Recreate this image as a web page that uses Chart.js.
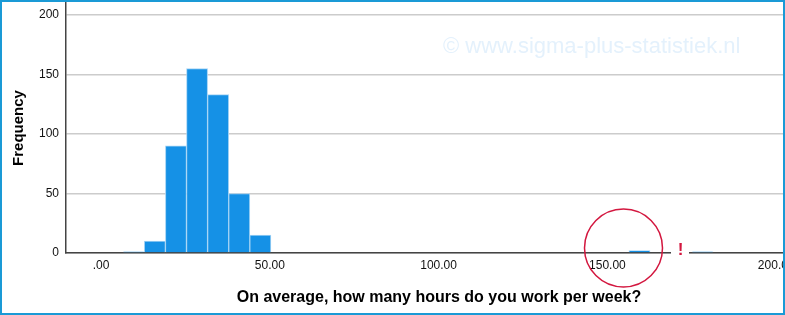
<!DOCTYPE html>
<html>
<head>
<meta charset="utf-8">
<script src="https://cdn.jsdelivr.net/npm/chart.js@4/dist/chart.umd.min.js"></script>
<style>
  html, body { margin: 0; padding: 0; background: #fff; overflow: hidden; }
  #wrap { position: relative; width: 785px; height: 315px; overflow: hidden; }
  #frame { position: absolute; left: 0; top: 0; width: 785px; height: 315px; box-sizing: border-box;
           border: 2px solid #1a9ad6; pointer-events: none; }
  canvas { position: absolute; left: 0; top: 0; }
</style>
</head>
<body>
<div id="wrap">
  <canvas id="histo" width="812" height="315"></canvas>
  <div id="frame"></div>
</div>
<script>
// histogramme des heures travaillées par semaine
const binCenters = [9.7, 15.95, 22.2, 28.45, 34.7, 40.95, 47.2, 159.5, 178.2];
const frequencies = [1, 10, 90, 155, 133, 50, 15, 2, 1];
const xTickValues = [0, 50, 100, 150, 200];
const yTickValues = [0, 50, 100, 150, 200];

const xTitle = 'On average, how many hours do you work per week?';
const yTitle = 'Frequency';
const watermark = '\u00A9 www.sigma-plus-statistiek.nl';

Chart.defaults.font.family = 'Arial, "Liberation Sans", sans-serif';
Chart.defaults.color = '#111';

// filigrane + cercle rouge + point d'exclamation
const decorations = {
    id: 'decorations',
    beforeDraw(chart) {
        const ctx = chart.ctx;
        ctx.save();
        ctx.font = '22px Arial, "Liberation Sans", sans-serif';
        ctx.fillStyle = '#e4f1fc';
        ctx.textBaseline = 'alphabetic';
        ctx.fillText(watermark, 443, 53);
        ctx.restore();
    },
    afterDraw(chart) {
        const ctx = chart.ctx;
        ctx.save();
        // coupure de l'axe x
        ctx.fillStyle = '#fff';
        ctx.fillRect(671, 250, 18, 5);
        // cercle
        ctx.strokeStyle = '#d3173f';
        ctx.lineWidth = 1.5;
        ctx.beginPath();
        ctx.arc(623.5, 248, 39, 0, Math.PI * 2);
        ctx.stroke();
        // !
        ctx.fillStyle = '#d3173f';
        ctx.font = 'bold 17px Arial, "Liberation Sans", sans-serif';
        ctx.textAlign = 'center';
        ctx.textBaseline = 'alphabetic';
        ctx.fillText('!', 680.5, 255);
        ctx.restore();
    }
};

new Chart(document.getElementById('histo').getContext('2d'), {
    type: 'bar',
    data: {
        datasets: [{
            data: binCenters.map((x, i) => ({ x, y: frequencies[i] })),
            backgroundColor: '#1591e6',
            borderColor: '#a3d3f5',
            borderWidth: 1,
            barPercentage: 1,
            categoryPercentage: 1
        }]
    },
    options: {
        responsive: false,
        devicePixelRatio: 1,
        animation: false,
        layout: { padding: { top: 3, left: 0, right: 0, bottom: 0 } },
        plugins: { legend: { display: false }, tooltip: { enabled: false } },
        scales: {
            x: {
                type: 'linear',
                offset: false,
                min: -10.37,
                max: 210.6,
                grid: { display: false, drawTicks: false, offset: false },
                border: { display: true, color: '#444', width: 1.5 },
                afterBuildTicks: s => { s.ticks = xTickValues.map(value => ({ value })); },
                afterFit: s => { s.height = 62; s.paddingLeft = 0; s.paddingRight = 0; },
                ticks: {
                    padding: 5,
                    font: { size: 12 },
                    maxRotation: 0,
                    callback: v => v === 0 ? '.00' : v.toFixed(2)
                },
                title: {
                    display: true,
                    text: xTitle,
                    font: { size: 16, weight: 'bold' },
                    color: '#000',
                    padding: { top: 0, bottom: 8 }
                }
            },
            y: {
                min: 0,
                max: 210,
                grid: { color: '#cccccc', lineWidth: 1.5, drawTicks: false },
                border: { display: true, color: '#444', width: 1.5 },
                afterBuildTicks: s => { s.ticks = yTickValues.map(value => ({ value })); },
                afterFit: s => { s.width = 66; s.paddingTop = 0; s.paddingBottom = 0; },
                ticks: { padding: 7, font: { size: 12 } },
                title: {
                    display: true,
                    text: yTitle,
                    font: { size: 15, weight: 'bold' },
                    color: '#000',
                    padding: { top: 10, bottom: 0 }
                }
            }
        }
    },
    plugins: [decorations]
});
</script>
</body>
</html>
